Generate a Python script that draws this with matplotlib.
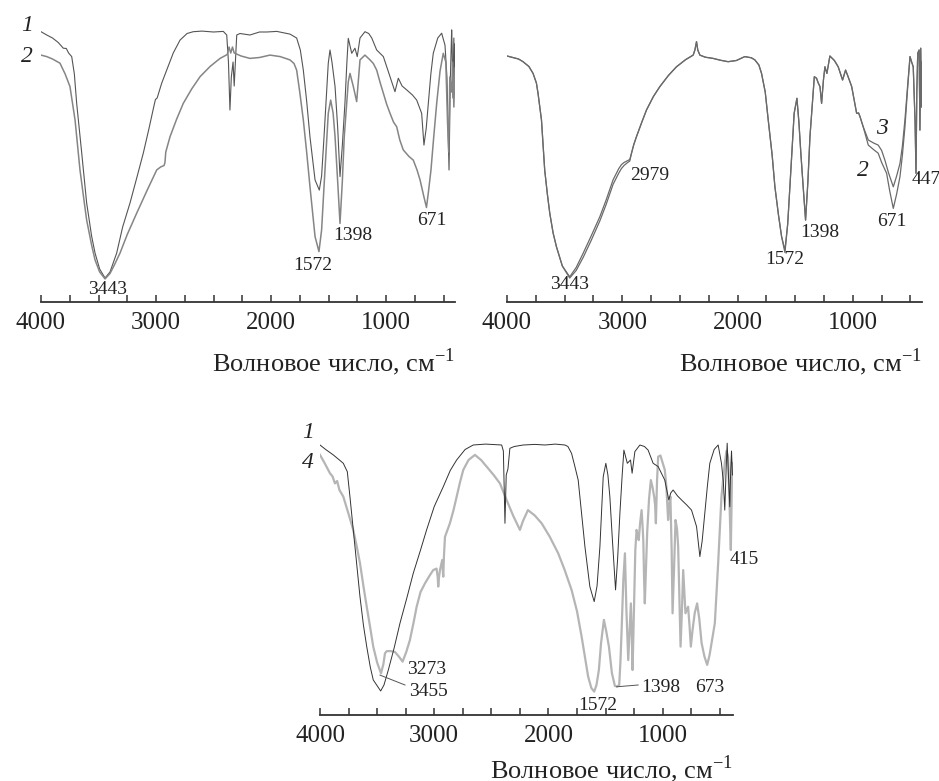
import matplotlib
matplotlib.use("Agg")
import matplotlib.pyplot as plt
from matplotlib.ticker import MultipleLocator

plt.rcParams['font.family'] = ['Liberation Serif', 'DejaVu Serif']
plt.rcParams['mathtext.fontset'] = 'custom'
plt.rcParams['mathtext.rm'] = 'Liberation Serif'

# ---- panel 1: curves 1 and 2 ----
p1_c1_wn = [4000, 3950, 3900, 3850, 3806, 3780, 3760, 3733, 3710, 3690, 3646, 3603, 3560, 3530, 3490,
            3443, 3400, 3342, 3290, 3226, 3170, 3110, 3060, 3020, 3005, 2990, 2950, 2907, 2850, 2791,
            2730, 2676, 2600, 2500, 2415, 2385, 2370, 2357, 2345, 2330, 2320, 2298, 2270, 2183, 2100,
            2037, 1950, 1835, 1777, 1745, 1719, 1690, 1661, 1617, 1580, 1560, 1539, 1502, 1487, 1470,
            1443, 1420, 1400, 1380, 1357, 1340, 1328, 1298, 1270, 1250, 1226, 1183, 1150, 1124, 1081,
            1023, 965, 922, 893, 860, 820, 770, 733, 690, 670, 650, 632, 610, 589, 550,
            516, 487, 470, 452, 440, 429, 425, 418, 410, 405, 400]
p1_c1_t = [90.1, 89, 88, 86.5, 84.6, 84.5, 83, 81.8, 76, 66.3, 49.7, 33, 22, 16.3, 11,
           8, 10, 16.3, 25, 33, 41, 49.7, 58, 65, 67.5, 68, 73, 77.3, 83, 87.3,
           89.5, 90.1, 90.3, 90, 90.2, 89, 80, 64, 75, 80, 72, 89, 89.5, 89, 90,
           90, 90.2, 89.3, 88, 84, 77.3, 67, 55, 40.7, 37.3, 42, 55, 79.6, 84, 80,
           71.8, 58, 41.8, 52, 66.3, 80, 87.9, 82.9, 84.6, 81.8, 88, 90.1, 89.5, 88, 84,
           81.8, 75.1, 70.1, 74.6, 72, 70.7, 69, 67.3, 62.9, 52.3, 58, 66.2, 76, 82.9, 88,
           89.6, 85.6, 75, 44, 75, 90.7, 85, 68, 88, 75, 86]

p1_c2_wn = [4000, 3950, 3900, 3835, 3790, 3748, 3704, 3661, 3630, 3603, 3560, 3530, 3490, 3443, 3400,
            3360, 3313, 3250, 3168, 3080, 2994, 2960, 2930, 2922, 2915, 2878, 2820, 2763, 2690, 2617,
            2530, 2443, 2380, 2365, 2350, 2335, 2320, 2260, 2183, 2100, 2009, 1920, 1835, 1800, 1777,
            1750, 1719, 1690, 1661, 1617, 1583, 1560, 1539, 1502, 1481, 1460, 1443, 1420, 1400, 1380,
            1363, 1328, 1313, 1284, 1255, 1240, 1226, 1183, 1139, 1110, 1081, 1050, 1023, 995, 965,
            935, 907, 880, 850, 800, 763, 730, 704, 670, 648, 630, 609, 585, 559, 530,
            502, 480, 465, 455, 445, 430, 420, 410, 400]
p1_c2_t = [82.3, 81.8, 81, 79.6, 76, 71.8, 60.7, 44, 35, 27.3, 19, 14, 10, 7.7, 9.5,
           12.5, 16.3, 22.5, 29.6, 37, 44, 45, 45.5, 46.5, 50, 55.1, 61, 66.2, 71, 75.1,
           78.5, 81.2, 82.5, 85, 83, 85, 83, 82, 81.2, 81.5, 82.3, 81.8, 80.7, 79.5, 77.3,
           70, 60.7, 50, 38.4, 21.8, 16.8, 24, 38.4, 62.9, 67.3, 63, 55.1, 40, 26.2, 40,
           55.1, 73.4, 76.2, 71.8, 66.8, 74, 80.7, 82.3, 80.7, 79.5, 77.3, 73, 69.6, 66, 62.9,
           60, 58.4, 54, 50.7, 48.5, 47.3, 44, 40.7, 35, 31.5, 37, 44, 55, 66.3, 77,
           82.9, 80, 60, 50, 75, 70, 80, 65, 78]

# ---- panel 2: curves 2 and 3 ----
p2_c3_wn = [4000, 3950, 3900, 3861, 3810, 3774, 3745, 3731, 3701, 3673, 3650, 3629, 3600, 3571, 3520,
            3456, 3400, 3340, 3270, 3195, 3140, 3080, 3030, 3007, 2985, 2960, 2935, 2920, 2900, 2877,
            2830, 2790, 2730, 2674, 2600, 2530, 2450, 2385, 2370, 2356, 2345, 2327, 2280, 2212, 2150,
            2082, 2010, 1937, 1880, 1850, 1815, 1792, 1760, 1734, 1700, 1676, 1645, 1618, 1589, 1565,
            1546, 1509, 1485, 1468, 1451, 1430, 1410, 1390, 1372, 1334, 1315, 1300, 1285, 1271, 1255,
            1242, 1225, 1199, 1160, 1127, 1089, 1063, 1040, 1010, 967, 950, 938, 910, 866, 820,
            780, 750, 722, 690, 649, 620, 591, 570, 548, 525, 504, 490, 476, 460, 452,
            445, 437, 425, 418, 411, 405, 400]
p2_c3_t = [82, 81.5, 81, 80.1, 78.5, 76.2, 73, 69.6, 60.7, 44, 36, 29.6, 23, 18.4, 12,
           8.4, 11.5, 16.2, 22, 28.4, 34, 40.7, 44.5, 45.8, 46.5, 47, 47.5, 49.6, 52.5, 55.1,
           60, 64, 68.5, 71.8, 75.5, 78.4, 80.8, 82.3, 84, 86.8, 84, 82.3, 81.6, 81.2, 80.6,
           80.1, 80.5, 81.8, 81.4, 80.7, 79, 76.2, 70, 60.7, 49, 38.4, 29, 21.8, 17.3, 26,
           38.4, 62.9, 67.9, 60, 49.6, 38, 27.3, 40, 55.1, 75.1, 74.6, 73, 71.8, 66.2, 74,
           78.4, 76.2, 82, 80.5, 78.4, 74, 77.3, 75, 71.8, 62.9, 63, 61.8, 58.4, 54, 53,
           52.3, 50.5, 47.3, 43, 38.4, 42, 46.2, 52, 60.7, 72, 81.8, 80, 78.4, 60, 42.9,
           70, 82.9, 84, 57.3, 84.6, 65, 80]

p2_c2_wn = [4000, 3950, 3900, 3861, 3810, 3774, 3745, 3731, 3701, 3673, 3650, 3629, 3600, 3571, 3520,
            3456, 3400, 3340, 3270, 3195, 3140, 3080, 3030, 3007, 2985, 2960, 2935, 2920, 2900, 2877,
            2830, 2790, 2730, 2674, 2600, 2530, 2450, 2385, 2370, 2356, 2345, 2327, 2280, 2212, 2150,
            2082, 2010, 1937, 1880, 1850, 1815, 1792, 1760, 1734, 1700, 1676, 1645, 1618, 1589, 1565,
            1546, 1509, 1485, 1468, 1451, 1430, 1410, 1390, 1372, 1334, 1315, 1300, 1285, 1271, 1255,
            1242, 1225, 1199, 1160, 1127, 1089, 1063, 1040, 1010, 967, 950, 938, 910, 866, 820,
            780, 750, 707, 680, 649, 620, 591, 570, 548, 525, 504, 490, 476, 460, 452,
            445, 437, 425, 418, 411, 405, 400]
p2_c2_t = [82, 81.5, 81, 80.1, 78.5, 76.2, 73, 69.6, 60.7, 44, 36, 29.6, 23, 18.4, 12,
           8, 10.5, 14.8, 20.5, 27, 32.5, 39.2, 43, 44.5, 45.5, 46.3, 47, 49.6, 52.5, 55.1,
           60, 64, 68.5, 71.8, 75.5, 78.4, 80.8, 82.3, 84, 86.8, 84, 82.3, 81.6, 81.2, 80.6,
           80.1, 80.5, 81.8, 81.4, 80.7, 79, 76.2, 70, 60.7, 49, 38.4, 29, 21.8, 16.5, 26,
           38.4, 62.9, 67.9, 60, 49.6, 38, 27.3, 40, 55.1, 75.1, 74.6, 73, 71.8, 66.2, 74,
           78.4, 76.2, 82, 80.5, 78.4, 74, 77.3, 75, 71.8, 62.9, 63, 61.8, 58.4, 52.3, 50.8,
           49.6, 46.5, 42.9, 37, 31.2, 36, 41.8, 49, 58.4, 71, 81.8, 80, 78.4, 60, 42.9,
           70, 82.9, 84, 57.3, 84.6, 65, 80]

# ---- panel 3: curves 1 and 4 ----
p3_c1_wn = [4000, 3950, 3884, 3830, 3796, 3761, 3738, 3694, 3650, 3620, 3591, 3560, 3534, 3469, 3440,
            3402, 3350, 3300, 3240, 3184, 3120, 3067, 3000, 2921, 2860, 2804, 2730, 2659, 2550, 2410,
            2395, 2381, 2370, 2355, 2338, 2300, 2221, 2120, 2031, 1940, 1856, 1830, 1798, 1770, 1740,
            1710, 1681, 1638, 1600, 1575, 1550, 1521, 1498, 1480, 1463, 1440, 1413, 1395, 1375, 1355,
            1340, 1310, 1282, 1268, 1244, 1200, 1160, 1128, 1084, 1040, 982, 947, 930, 909, 870,
            836, 790, 748, 704, 675, 655, 632, 610, 588, 550, 515, 486, 470, 457, 445,
            436, 425, 413, 405, 398, 390]
p3_c1_t = [90, 88.5, 86.7, 85, 83.9, 81.1, 72.8, 56.1, 39.4, 30, 22.8, 16, 11.7, 8, 10,
           15, 22.5, 30.6, 39, 47.2, 55, 61.7, 69.5, 76.1, 81.5, 85, 88.5, 90, 90.3, 90,
           88, 63.9, 80, 82, 88.9, 89.5, 90, 90.2, 90, 90.3, 90, 89.5, 87.2, 83, 78.3,
           67, 56.1, 42.8, 37.8, 43, 56.1, 79.4, 83.9, 80, 72.8, 58, 41.7, 52, 67.2, 80,
           88.3, 83.9, 85, 80.6, 87.8, 90, 89.5, 88.3, 83.9, 82.8, 78.3, 71.7, 74, 75, 73,
           71.7, 70, 68.3, 62.8, 52.8, 58, 67.2, 76, 83.9, 88.5, 90, 83.9, 78, 68.3, 82,
           90.6, 80, 69.4, 82, 88, 80]

p3_c4_wn = [4000, 3960, 3913, 3890, 3869, 3850, 3830, 3796, 3750, 3709, 3680, 3650, 3620, 3591, 3560,
            3534, 3500, 3466, 3445, 3431, 3415, 3380, 3344, 3310, 3277, 3245, 3213, 3180, 3154, 3120,
            3081, 3040, 3009, 2980, 2970, 2965, 2958, 2950, 2930, 2925, 2921, 2915, 2906, 2863, 2830,
            2804, 2775, 2746, 2700, 2644, 2590, 2542, 2480, 2425, 2367, 2310, 2250, 2225, 2180, 2120,
            2060, 1990, 1915, 1860, 1798, 1750, 1710, 1680, 1653, 1625, 1600, 1580, 1559, 1540, 1515,
            1495, 1471, 1445, 1419, 1400, 1381, 1370, 1360, 1345, 1331, 1318, 1302, 1290, 1279, 1270,
            1264, 1250, 1240, 1229, 1218, 1210, 1198, 1185, 1175, 1170, 1163, 1157, 1146, 1136, 1120,
            1104, 1090, 1075, 1067, 1060, 1050, 1040, 1020, 1000, 982, 968, 953, 943, 933, 922,
            914, 900, 888, 875, 865, 855, 844, 832, 821, 810, 801, 790, 778, 766, 754,
            740, 720, 699, 680, 660, 635, 611, 590, 573, 560, 544, 530, 515, 500, 486,
            470, 457, 442, 428, 415, 404, 398, 392]
p3_c4_t = [86.7, 84, 80.6, 79.5, 77.2, 78, 75, 72.8, 67, 61.7, 56.5, 50.6, 43, 36.1, 29,
           22.8, 17.5, 13.9, 17, 20.6, 21.3, 21.3, 21, 19.5, 17.8, 21, 25, 31, 36.1, 41,
           43.9, 46.5, 48.3, 48.8, 46, 42.8, 46, 48.3, 51.7, 48, 46.1, 53, 59.4, 63.9, 68.5,
           72.8, 77.5, 81.7, 85, 86.7, 85, 82.8, 80, 77.2, 71.7, 66.5, 61.7, 64.5, 68.3, 66.5,
           63.9, 59.5, 53.9, 48.5, 41.7, 34.5, 26.1, 19, 12.8, 9, 7.8, 10, 15, 24, 31.7,
           28, 22.8, 14, 9.7, 9.5, 10, 18, 28.3, 45, 53.9, 35, 18.3, 28, 37.2, 25,
           15, 38, 55, 61.7, 60, 58.3, 64, 68.3, 62, 58, 45, 37.2, 50, 61, 72,
           78.3, 76, 72.8, 70, 63.9, 78, 86.1, 86.5, 84, 81.7, 76, 65, 70, 72.8, 55,
           33.9, 50, 65, 62, 56.1, 40, 22.8, 35, 48.3, 40, 33.9, 35, 36.1, 30, 22.8,
           28, 34, 37.2, 32, 24, 19.5, 16.7, 20, 24, 27, 30.6, 40, 50.6, 62, 72.8,
           79, 83.9, 88, 86, 70, 55, 70, 84]

tick_labels = ['4000', '3000', '2000', '1000']
xlabel_text = 'Волновое число, см$^{\\mathregular{-1}}$'

W, H = 939, 781
fig = plt.figure(figsize=(W / 100, H / 100), dpi=100)


def make_axes(left, axis_y, width, xmin):
    ax = fig.add_axes([left / W, 1 - axis_y / H, width / W, 300 / H])
    ax.set_xlim(4000, xmin)
    ax.set_ylim(0, 100)
    for s in ['left', 'right', 'top']:
        ax.spines[s].set_visible(False)
    ax.spines['bottom'].set_linewidth(1.3)
    ax.spines['bottom'].set_color('#333333')
    ax.set_yticks([])
    ax.xaxis.set_minor_locator(MultipleLocator(250))
    ax.set_xticks([4000, 3000, 2000, 1000])
    ax.set_xticklabels(tick_labels)
    ax.tick_params(axis='x', which='both', direction='in', length=5, width=1.1,
                   color='#333333', labelsize=18, pad=7, labelcolor='#222222')
    ax.patch.set_alpha(0)
    return ax


def note(ax, x, y, s, size=14, style='normal', ha='center'):
    ax.text(x, y, s, fontsize=size, style=style, ha=ha, va='center', color='#222222')


# panel 1
ax1 = make_axes(41, 302, 414, 400)
ax1.plot(p1_c1_wn, p1_c1_t, color='#555555', lw=0.8)
ax1.plot(p1_c2_wn, p1_c2_t, color='#858585', lw=1.1)
note(ax1, 4122, 92.3, '1', 17, 'italic')
note(ax1, 4122, 81.7, '2', 17, 'italic')
note(ax1, 3417, 4, '3443')
note(ax1, 1635, 12.3, '1572')
note(ax1, 1287, 22.3, '1398')
note(ax1, 600, 27.3, '671')
ax1.text(1.0, -0.2, xlabel_text, transform=ax1.transAxes, ha='right', va='center',
         fontsize=19, color='#222222')

# panel 2
ax2 = make_axes(507, 302, 415, 400)
ax2.plot(p2_c2_wn, p2_c2_t, color='#6a6a6a', lw=0.9)
ax2.plot(p2_c3_wn, p2_c3_t, color='#6a6a6a', lw=0.9)
note(ax2, 3456, 5.7, '3443')
note(ax2, 2761, 42.3, '2979')
note(ax2, 1591, 14, '1572')
note(ax2, 1287, 23.3, '1398')
note(ax2, 663, 26.8, '671')
note(ax2, 490, 40.7, '447', ha='left')
note(ax2, 749, 58, '3', 17, 'italic')
note(ax2, 912, 44, '2', 17, 'italic')
ax2.text(1.0, -0.2, xlabel_text, transform=ax2.transAxes, ha='right', va='center',
         fontsize=19, color='#222222')

# panel 3
ax3 = make_axes(320, 715, 413, 385)
ax3.plot(p3_c4_wn, p3_c4_t, color='#b5b5b5', lw=1.6)
ax3.plot(p3_c1_wn, p3_c1_t, color='#333333', lw=0.7)
note(ax3, 4105, 94, '1', 17, 'italic')
note(ax3, 4105, 84, '4', 17, 'italic')
note(ax3, 3066, 15, '3273')
note(ax3, 3052, 7.8, '3455')
ax3.plot([3475, 3256], [13.3, 10], color='#555555', lw=0.7)
note(ax3, 1568, 3.3, '1572')
note(ax3, 1186, 9.3, '1398', ha='left')
ax3.plot([1404, 1215], [9.4, 10], color='#555555', lw=0.7)
note(ax3, 588, 9.3, '673')
note(ax3, 413, 51.7, '415', ha='left')
ax3.text(1.0, -0.18, xlabel_text, transform=ax3.transAxes, ha='right', va='center',
         fontsize=19, color='#222222')

fig.savefig('out.png', dpi=100)
